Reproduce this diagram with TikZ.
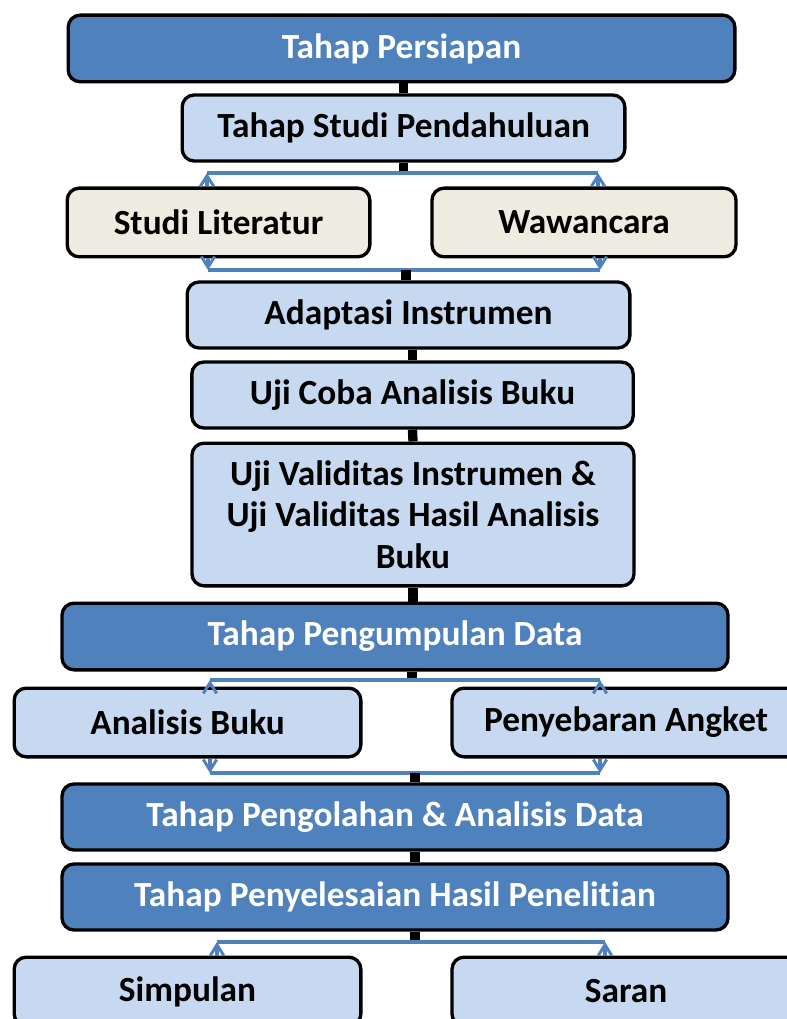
\documentclass[tikz,border=0pt]{standalone}
\usepackage{fontspec}
\setmainfont{Carlito}[Ligatures=NoCommon]
\usetikzlibrary{arrows.meta}
\definecolor{darkblue}{RGB}{79,129,189}
\definecolor{lightblue}{RGB}{198,217,241}
\definecolor{beige}{RGB}{238,236,225}
\tikzset{every picture/.style={line width=0.75pt}}
\tikzset{
  stage/.style={draw=black, line width=2.5pt, rounded corners=9pt, inner sep=0pt, align=center,
    font=\bfseries\fontsize{26.5}{31}\selectfont},
  mainstage/.style={stage, fill=darkblue, text=white},
  substage/.style={stage, fill=lightblue},
  studybox/.style={stage, fill=beige},
  stub/.style={line width=7pt, black},
  bracket/.style={line width=2.5pt, darkblue},
  branch/.style={bracket, -{Straight Barb[length=8pt,width=10pt,line width=2.2pt]}}
}

\begin{document}
\begin{tikzpicture}[x=0.75pt,y=0.75pt,yscale=-1,xscale=1]
\useasboundingbox (0,0) rectangle (787,1019);

% Text Node
\node[mainstage, minimum width=500pt, minimum height=50pt] (persiapan) at (401.5,48.5) {Tahap Persiapan};
% Text Node
\node[substage, minimum width=332pt, minimum height=49.5pt] (studi) at (403.5,128) {Tahap Studi Pendahuluan};
% Text Node
\node[studybox, minimum width=227pt, minimum height=51.5pt] (literatur) at (218.5,222.5) {Studi Literatur};
% Text Node
\node[studybox, minimum width=228pt, minimum height=51.5pt] (wawancara) at (584,222.5) {Wawancara};
% Text Node
\node[substage, minimum width=332pt, minimum height=49.5pt] (adaptasi) at (408.5,315) {Adaptasi Instrumen};
% Text Node
\node[substage, minimum width=331pt, minimum height=49.5pt] (ujicoba) at (412.5,395) {Uji Coba Analisis Buku};
% Text Node
\node[substage, minimum width=331.5pt, minimum height=107pt] (validitas) at (413,514.5)
  {Uji Validitas Instrumen \&\\ Uji Validitas Hasil Analisis\\ Buku};
% Text Node
\node[mainstage, minimum width=499.5pt, minimum height=50pt] (pengumpulan) at (395,636.5) {Tahap Pengumpulan Data};
% Text Node
\node[substage, minimum width=260pt, minimum height=51.5pt] (analisis) at (187.5,722.5) {Analisis Buku};
% Text Node
\node[substage, minimum width=261pt, minimum height=51.5pt] (angket) at (626,722.5) {Penyebaran Angket};
% Text Node
\node[mainstage, minimum width=499.5pt, minimum height=49.5pt] (pengolahan) at (395,817) {Tahap Pengolahan \& Analisis Data};
% Text Node
\node[mainstage, minimum width=499.5pt, minimum height=49.5pt] (penyelesaian) at (395,897) {Tahap Penyelesaian Hasil Penelitian};
% Text Node
\node[substage, minimum width=260pt, minimum height=51.5pt] (simpulan) at (187.5,991.5) {Simpulan};
% Text Node
\node[substage, minimum width=261pt, minimum height=51.5pt] (saran) at (626,991.5) {Saran};

% bracket points
\coordinate (studiL) at (207,173);
\coordinate (studiR) at (598,173);
\coordinate (studiM) at (403.5,173);
\coordinate (litL) at (208,270);
\coordinate (litR) at (600,270);
\coordinate (litM) at (406,270);
\coordinate (kumpulL) at (210,680);
\coordinate (kumpulR) at (600,680);
\coordinate (kumpulM) at (412,680);
\coordinate (olahL) at (210,773);
\coordinate (olahR) at (600,773);
\coordinate (olahM) at (415,773);
\coordinate (selesaiL) at (217,942);
\coordinate (selesaiR) at (605,942);
\coordinate (selesaiM) at (415,942);

%Straight Lines
\draw[stub] (persiapan.south -| studi.north) -- (studi.north);
\draw[stub] (studi.south) -- (studiM);
\draw[bracket] (studiL) -- (studiR);
\draw[branch] (literatur.north -| studiL) -- (studiL);
\draw[branch] (wawancara.north -| studiR) -- (studiR);
\draw[branch] (literatur.south -| litL) -- (litL);
\draw[branch] (wawancara.south -| litR) -- (litR);
\draw[bracket] (litL) -- (litR);
\draw[stub] (litM) -- (adaptasi.north -| litM);
\draw[stub] (adaptasi.south -| ujicoba.north) -- (ujicoba.north);
\draw[stub] (ujicoba.south) -- (validitas.north);
\draw[stub] (validitas.south) -- (pengumpulan.north -| validitas.south);
\draw[stub] (pengumpulan.south -| kumpulM) -- (kumpulM);
\draw[bracket] (kumpulL) -- (kumpulR);
\draw[branch] (analisis.north -| kumpulL) -- (kumpulL);
\draw[branch] (angket.north -| kumpulR) -- (kumpulR);
\draw[branch] (analisis.south -| olahL) -- (olahL);
\draw[branch] (angket.south -| olahR) -- (olahR);
\draw[bracket] (olahL) -- (olahR);
\draw[stub] (olahM) -- (pengolahan.north -| olahM);
\draw[stub] (pengolahan.south -| olahM) -- (penyelesaian.north -| olahM);
\draw[stub] (penyelesaian.south -| selesaiM) -- (selesaiM);
\draw[bracket] (selesaiL) -- (selesaiR);
\draw[branch] (simpulan.north -| selesaiL) -- (selesaiL);
\draw[branch] (saran.north -| selesaiR) -- (selesaiR);

\end{tikzpicture}
\end{document}
